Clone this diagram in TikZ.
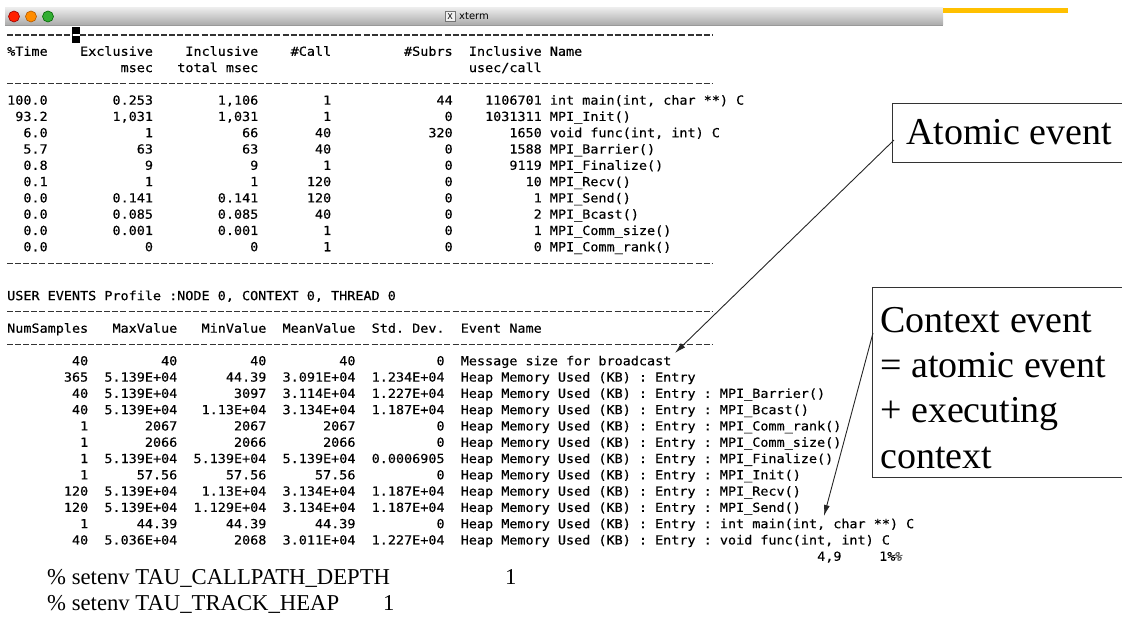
\documentclass[tikz,border=0pt]{standalone}
\usepackage{fontspec}
\setmainfont{Liberation Serif}
\newfontfamily\termfont[FakeStretch=1.076,FakeBold=0.4]{DejaVu Sans Mono}
\newfontfamily\titlefont{DejaVu Sans}
\usetikzlibrary{arrows.meta}
\definecolor{barorange}{RGB}{255,192,0}

% one character cell of the terminal font (0.602 em x 12.5pt x 1.076)
\newlength\cw
\setlength\cw{8.1pt}
\newcommand\term{\termfont\fontsize{12.5}{16}\selectfont\frenchspacing
  \spaceskip=\cw\relax\xspaceskip=\cw\relax}
% right-aligned field of #1 character cells
\newcommand\fld[2]{\makebox[#1\cw][r]{#2}}
% function profile row
\newcommand\prow[7]{\fld{5}{#1}\fld{13}{#2}\fld{13}{#3}\fld{9}{#4}\fld{15}{#5}\fld{11}{#6}\hspace*{\cw}#7}
% user event row
\newcommand\urow[6]{\fld{10}{#1}\fld{11}{#2}\fld{11}{#3}\fld{11}{#4}\fld{11}{#5}\hspace*{2\cw}#6}
\newcommand\heap{Heap Memory Used (KB) : Entry}

\begin{document}
\begin{tikzpicture}[x=1pt,y=-1pt,
  term/.style={anchor=base west, inner sep=0pt, font=\term},
  rule/.style={line width=1.1pt, black!80, dash pattern=on 6pt off 2.1pt},
  light/.style={circle, minimum size=11pt, inner sep=0pt, line width=0.6pt},
  callbox/.style={draw=black!80, line width=1.1pt, fill=white, inner sep=0pt, anchor=north west},
  calltext/.style={anchor=base west, inner sep=0pt, font=\fontsize{38}{45}\selectfont},
  callarrow/.style={line width=0.9pt, black!85, -{Latex[length=11pt,width=6pt]}},
  setenv/.style={anchor=base west, inner sep=0pt, font=\fontsize{22.7}{26}\selectfont}]

\useasboundingbox (0,0) rectangle (1122,617);
\clip (0,0) rectangle (1122,617);

% window title bar
\shade[top color=black!8, bottom color=black!33] (5,8) rectangle (943,25);
\draw[black!40, line width=0.5pt] (5,25) -- (943,25);
\node[light, fill=red!75!orange, draw=red!60!black] (close) at (14,16.5) {};
\node[light, fill=orange!90!yellow, draw=orange!70!black] (mini) at (31,16.5) {};
\node[light, fill=green!60!black!80, draw=green!40!black] (zoom) at (48,16.5) {};
\node[draw=black!55, fill=black!6, inner sep=0pt, minimum size=10pt,
      font=\titlefont\fontsize{8}{8}\selectfont] (xicon) at (450,16.5) {X};
\node[anchor=west, inner sep=0pt, font=\titlefont\fontsize{10}{10}\selectfont] (title) at (459,16.5) {xterm};
\fill[barorange] (943,8) rectangle (1068,13);

% cursor on the first rule
\fill (72,27) rectangle (80,43);
\draw[white, line width=1.1pt] (72,35) -- (80,35);

% function profile
\draw[rule] (7,35) -- (72,35);
\draw[rule] (80,35) -- (713,35);
\node[term] (ph1) at (7,{39.5+16.29*1}) {\fld{5}{\%Time}\fld{13}{Exclusive}\fld{13}{Inclusive}\fld{9}{\#Call}\fld{15}{\#Subrs}\hspace*{2\cw}Inclusive Name};
\node[term] (ph2) at (7,{39.5+16.29*2}) {\fld{5}{}\fld{13}{msec}\fld{13}{total msec}\hspace*{26\cw}usec/call};
\draw[rule] (7,{35+16.29*3}) -- (713,{35+16.29*3});
\node[term] (p1) at (7,{39.5+16.29*4}) {\prow{100.0}{0.253}{1,106}{1}{44}{1106701}{int main(int, char **) C}};
\node[term] (p2) at (7,{39.5+16.29*5}) {\prow{93.2}{1,031}{1,031}{1}{0}{1031311}{MPI\_Init()}};
\node[term] (p3) at (7,{39.5+16.29*6}) {\prow{6.0}{1}{66}{40}{320}{1650}{void func(int, int) C}};
\node[term] (p4) at (7,{39.5+16.29*7}) {\prow{5.7}{63}{63}{40}{0}{1588}{MPI\_Barrier()}};
\node[term] (p5) at (7,{39.5+16.29*8}) {\prow{0.8}{9}{9}{1}{0}{9119}{MPI\_Finalize()}};
\node[term] (p6) at (7,{39.5+16.29*9}) {\prow{0.1}{1}{1}{120}{0}{10}{MPI\_Recv()}};
\node[term] (p7) at (7,{39.5+16.29*10}) {\prow{0.0}{0.141}{0.141}{120}{0}{1}{MPI\_Send()}};
\node[term] (p8) at (7,{39.5+16.29*11}) {\prow{0.0}{0.085}{0.085}{40}{0}{2}{MPI\_Bcast()}};
\node[term] (p9) at (7,{39.5+16.29*12}) {\prow{0.0}{0.001}{0.001}{1}{0}{1}{MPI\_Comm\_size()}};
\node[term] (p10) at (7,{39.5+16.29*13}) {\prow{0.0}{0}{0}{1}{0}{0}{MPI\_Comm\_rank()}};
\draw[rule] (7,{35+16.29*14}) -- (713,{35+16.29*14});

% user events
\node[term] (uev) at (7,{39.5+16.29*16}) {USER EVENTS Profile :NODE 0, CONTEXT 0, THREAD 0};
\draw[rule] (7,{35+16.29*17}) -- (713,{35+16.29*17});
\node[term] (uh) at (7,{39.5+16.29*18}) {\urow{NumSamples}{MaxValue}{MinValue}{MeanValue}{Std. Dev.}{Event Name}};
\draw[rule] (7,{35+16.29*19}) -- (713,{35+16.29*19});
\node[term] (u1) at (7,{39.5+16.29*20}) {\urow{40}{40}{40}{40}{0}{Message size for broadcast}};
\node[term] (u2) at (7,{39.5+16.29*21}) {\urow{365}{5.139E+04}{44.39}{3.091E+04}{1.234E+04}{\heap}};
\node[term] (u3) at (7,{39.5+16.29*22}) {\urow{40}{5.139E+04}{3097}{3.114E+04}{1.227E+04}{\heap{} : MPI\_Barrier()}};
\node[term] (u4) at (7,{39.5+16.29*23}) {\urow{40}{5.139E+04}{1.13E+04}{3.134E+04}{1.187E+04}{\heap{} : MPI\_Bcast()}};
\node[term] (u5) at (7,{39.5+16.29*24}) {\urow{1}{2067}{2067}{2067}{0}{\heap{} : MPI\_Comm\_rank()}};
\node[term] (u6) at (7,{39.5+16.29*25}) {\urow{1}{2066}{2066}{2066}{0}{\heap{} : MPI\_Comm\_size()}};
\node[term] (u7) at (7,{39.5+16.29*26}) {\urow{1}{5.139E+04}{5.139E+04}{5.139E+04}{0.0006905}{\heap{} : MPI\_Finalize()}};
\node[term] (u8) at (7,{39.5+16.29*27}) {\urow{1}{57.56}{57.56}{57.56}{0}{\heap{} : MPI\_Init()}};
\node[term] (u9) at (7,{39.5+16.29*28}) {\urow{120}{5.139E+04}{1.13E+04}{3.134E+04}{1.187E+04}{\heap{} : MPI\_Recv()}};
\node[term] (u10) at (7,{39.5+16.29*29}) {\urow{120}{5.139E+04}{1.129E+04}{3.134E+04}{1.187E+04}{\heap{} : MPI\_Send()}};
\node[term] (u11) at (7,{39.5+16.29*30}) {\urow{1}{44.39}{44.39}{44.39}{0}{\heap{} : int main(int, char **) C}};
\node[term] (u12) at (7,{39.5+16.29*31}) {\urow{40}{5.036E+04}{2068}{3.011E+04}{1.227E+04}{\heap{} : void func(int, int) C}};

% status line
\node[term] (rowcol) at (817,{39.5+16.29*32}) {4,9};
\node[term] (pct) at (879,{39.5+16.29*32}) {1\%};
\node[term, xslant=0.3, black!70] (pctx) at (893,{39.5+16.29*32}) {\%};

% environment settings
\node[setenv] (env1) at (47,584) {\% setenv TAU\_CALLPATH\_DEPTH};
\node[setenv] (env1v) at (505,584) {1};
\node[setenv] (env2) at (47,610) {\% setenv TAU\_TRACK\_HEAP};
\node[setenv] (env2v) at (383,610) {1};

% callouts
\coordinate (atomtip) at (675,353);
\coordinate (ctxtip) at (824,516);
\node[callbox, minimum width=250pt, minimum height=59pt] (atom) at (892,103) {};
\node[callbox, minimum width=270pt, minimum height=190pt] (ctx) at (872,287) {};
\coordinate (atomfoot) at ([xshift=2pt,yshift=-7pt]atom.west);
\coordinate (ctxfoot) at ([xshift=1pt,yshift=-46pt]ctx.north west);
\draw[callarrow] (atomfoot) -- (atomtip);
\draw[callarrow] (ctxfoot) -- (ctxtip);
\node[calltext] (atomtxt) at (906,145) {Atomic event};
\node[calltext] (ctx1) at (880,333) {Context event};
\node[calltext] (ctx2) at (880,378) {= atomic event};
\node[calltext] (ctx3) at (880,423) {+ executing};
\node[calltext] (ctx4) at (880,468) {context};
\end{tikzpicture}
\end{document}
